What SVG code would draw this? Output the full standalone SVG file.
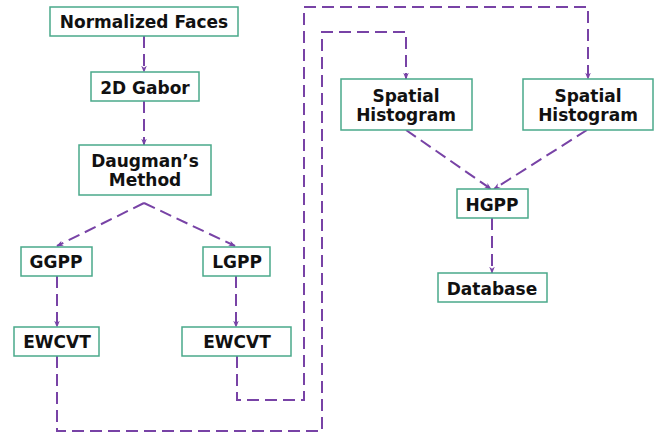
<svg xmlns="http://www.w3.org/2000/svg" width="657" height="433" viewBox="0 0 657 433">
<style>
.box{fill:#fff;stroke:#4aa98a;stroke-width:1.5}
.t{font-family:"DejaVu Sans",Verdana,sans-serif;font-weight:bold;font-size:17px;fill:#111;text-anchor:middle}
.c{fill:none;stroke:#7843a6;stroke-width:2;stroke-dasharray:12 6}
</style>
<defs>
<marker id="ah" viewBox="0 0 10 10" refX="9" refY="5" markerWidth="7" markerHeight="7" orient="auto" markerUnits="userSpaceOnUse">
<path d="M0,1 L10,5 L0,9 L3,5 Z" fill="#7843a6"/>
</marker>
</defs>
<rect width="657" height="433" fill="#fff"/>
<g id="connectors">
<path class="c" d="M144,36 V72" marker-end="url(#ah)"/>
<path class="c" d="M144,101 V145" marker-end="url(#ah)"/>
<path class="c" d="M144,203 L57,246" marker-end="url(#ah)"/>
<path class="c" d="M144,203 L235,246" marker-end="url(#ah)"/>
<path class="c" d="M57,276 V327" marker-end="url(#ah)"/>
<path class="c" d="M236,276 V327" marker-end="url(#ah)"/>
<path class="c" d="M57,356 V431 H322 V32 H406 V79" marker-end="url(#ah)"/>
<path class="c" d="M237,356 V400 H304 V7 H588 V79" marker-end="url(#ah)"/>
<path class="c" d="M406,130 L491,189" marker-end="url(#ah)"/>
<path class="c" d="M587,130 L494,189" marker-end="url(#ah)"/>
<path class="c" d="M492,218 V273" marker-end="url(#ah)"/>
</g>
<g id="normalized-faces"><rect class="box" x="50" y="7" width="188" height="29"/><text class="t" x="144" y="28">Normalized Faces</text></g>
<g id="gabor"><rect class="box" x="91" y="72" width="108" height="29"/><text class="t" x="145" y="94">2D Gabor</text></g>
<g id="daugman"><rect class="box" x="79" y="145" width="132" height="50"/><text class="t" x="145" y="167">Daugman’s</text><text class="t" x="145" y="186">Method</text></g>
<g id="ggpp"><rect class="box" x="21" y="247" width="71" height="29"/><text class="t" x="56" y="268">GGPP</text></g>
<g id="lgpp"><rect class="box" x="203" y="247" width="67" height="29"/><text class="t" x="237" y="268">LGPP</text></g>
<g id="ewcvt-left"><rect class="box" x="14" y="327" width="85" height="29"/><text class="t" x="57" y="348">EWCVT</text></g>
<g id="ewcvt-right"><rect class="box" x="182" y="327" width="109" height="29"/><text class="t" x="237" y="348">EWCVT</text></g>
<g id="spatial-left"><rect class="box" x="341" y="79" width="131" height="51"/><text class="t" x="406" y="102">Spatial</text><text class="t" x="406" y="121">Histogram</text></g>
<g id="spatial-right"><rect class="box" x="523" y="79" width="130" height="51"/><text class="t" x="588" y="102">Spatial</text><text class="t" x="588" y="121">Histogram</text></g>
<g id="hgpp"><rect class="box" x="457" y="189" width="71" height="29"/><text class="t" x="492" y="211">HGPP</text></g>
<g id="database"><rect class="box" x="438" y="273" width="109" height="29"/><text class="t" x="492" y="295">Database</text></g>
</svg>
